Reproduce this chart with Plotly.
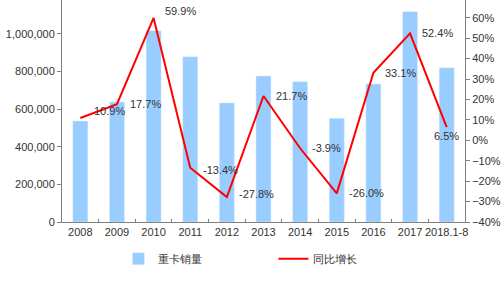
import plotly.graph_objects as go

years = ["2008", "2009", "2010", "2011", "2012", "2013", "2014", "2015", "2016", "2017", "2018.1-8"]
sales = [537000, 638000, 1017000, 879000, 633000, 776000, 746000, 551000, 734000, 1118000, 820000]
growth = [10.9, 17.7, 59.9, -13.4, -27.8, 21.7, -3.9, -26.0, 33.1, 52.4, 6.5]
growth_text = [f"{g:.1f}%" for g in growth]

# label offsets (pixels) relative to each point
label_dx = [12, 11, 9, 11, 10, 10, 10, 10, 10, 10, 0]
label_dy = [7, 0, 7, -2, 3, 0, 0, 0, 0, 0, -9]
label_anchor = ["left"] * 10 + ["center"]

font = dict(family="Liberation Sans, Arial, sans-serif", size=11, color="#333333")

fig = go.Figure()
fig.add_trace(go.Bar(x=years, y=sales, name="重卡销量", marker_color="#99CCFF",
                     width=0.41, yaxis="y"))
fig.add_trace(go.Scatter(x=years, y=growth, name="同比增长", mode="lines",
                         line=dict(color="#FF0000", width=2), yaxis="y2"))

for i, (y, t, dx, dy, a) in enumerate(zip(growth, growth_text, label_dx, label_dy, label_anchor)):
    fig.add_annotation(x=i, y=y, xref="x", yref="y2", text=t, showarrow=False,
                       xanchor=a, yanchor="middle", xshift=dx, yshift=dy, font=font)

fig.update_layout(
    width=504, height=284,
    margin=dict(l=62, r=39, t=0, b=62, autoexpand=False),
    paper_bgcolor="white", plot_bgcolor="white",
    font=font,
    showlegend=True,
    legend=dict(orientation="h", x=0.14, xanchor="left", y=-0.165, yanchor="middle",
                font=font, entrywidth=110, entrywidthmode="pixels",
                bgcolor="rgba(0,0,0,0)"),
    xaxis=dict(type="category", showline=True, linecolor="#808080", linewidth=1,
               ticks="inside", tickson="boundaries", ticklen=3, tickcolor="#808080",
               tickfont=font, tickangle=0, showgrid=False),
    yaxis=dict(range=[0, 1180000], showline=True, linecolor="#808080", linewidth=1,
               ticks="outside", ticklen=4, tickcolor="#808080", tickformat=",d",
               dtick=200000, showgrid=False, zeroline=False, tickfont=font),
    yaxis2=dict(range=[-40, 68.7], overlaying="y", side="right", showline=True,
                linecolor="#808080", linewidth=1, ticks="outside", ticklen=4,
                tickcolor="#808080", dtick=10, ticksuffix="%", showgrid=False,
                zeroline=False, tickfont=font),
)

fig.write_html("out.html")
